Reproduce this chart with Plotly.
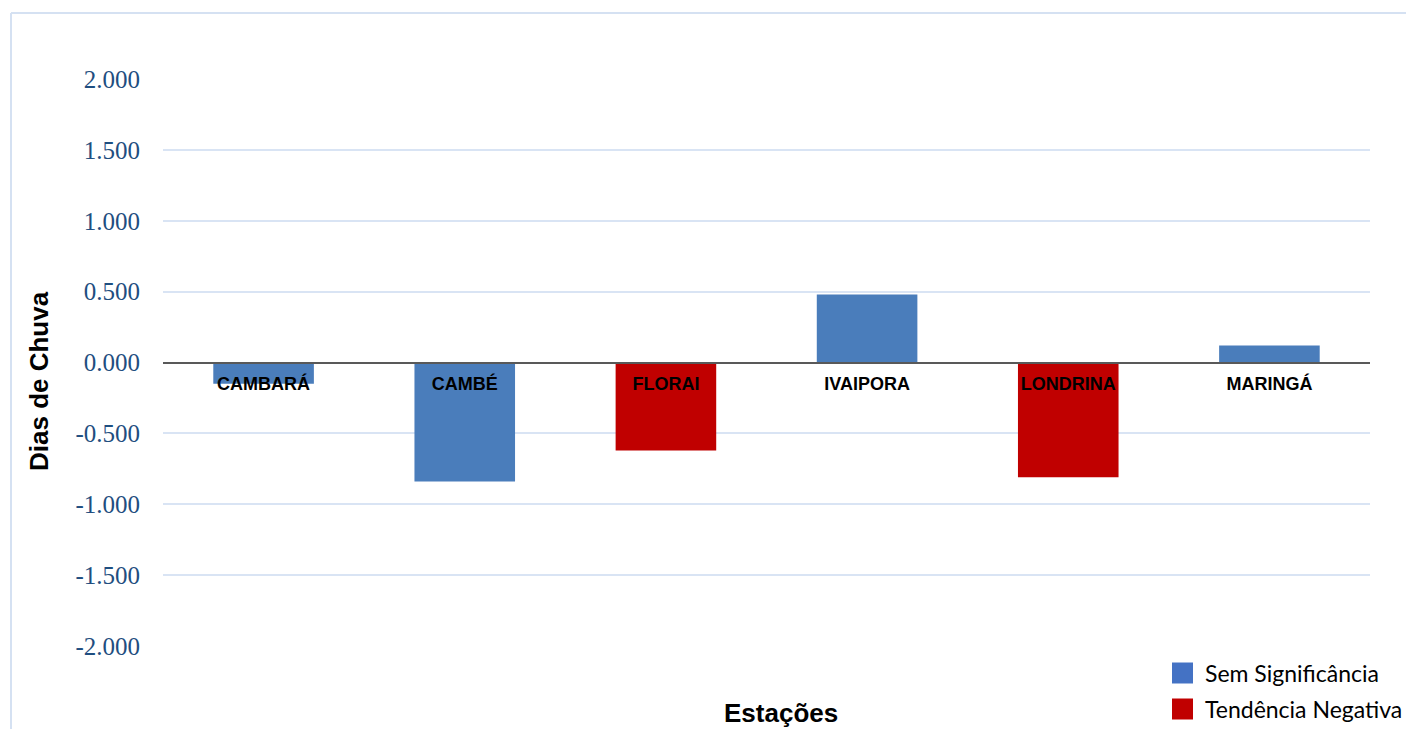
import plotly.graph_objects as go

# Estações pluviométricas e tendência dos dias de chuva
estacoes = ["CAMBARÁ", "CAMBÉ", "FLORAI", "IVAIPORA", "LONDRINA", "MARINGÁ"]
valores = [-0.15, -0.84, -0.62, 0.48, -0.81, 0.12]
classes = ["Sem Significância", "Sem Significância", "Tendência Negativa",
           "Sem Significância", "Tendência Negativa", "Sem Significância"]

categorias_legenda = ["Sem Significância", "Tendência Negativa"]
cores_barras = {"Sem Significância": "#4A7DBB", "Tendência Negativa": "#C00000"}
cores_legenda = {"Sem Significância": "#4472C4", "Tendência Negativa": "#C00000"}

y_ticks = [-2.0, -1.5, -1.0, -0.5, 0.0, 0.5, 1.0, 1.5, 2.0]
y_labels = [f"{v:.3f}" for v in y_ticks]

W, H = 1406, 729
ML, MR, MT, MB = 163, 36, 79, 83
PW, PH = W - ML - MR, H - MT - MB


def px_x(x):
    return (x - ML) / PW


def px_y(y):
    return (H - MB - y) / PH


fig = go.Figure()
for classe in categorias_legenda:
    fig.add_trace(go.Bar(
        x=estacoes,
        y=[v if c == classe else None for v, c in zip(valores, classes)],
        name=classe,
        marker=dict(color=cores_barras[classe], line=dict(width=0)),
        showlegend=False,
    ))

fig.update_layout(
    width=W, height=H,
    margin=dict(l=ML, r=MR, t=MT, b=MB),
    paper_bgcolor="white", plot_bgcolor="white",
    barmode="relative", bargap=0.5,
    showlegend=False,
)

fig.update_yaxes(
    range=[-2, 2], tickvals=y_ticks, ticktext=y_labels,
    showgrid=True, gridcolor="#D9E4F4", gridwidth=2,
    zeroline=False, showline=False, ticks="",
    ticklabelstandoff=22,
    tickfont=dict(family="Liberation Serif", size=25, color="#1F4E80"),
)

fig.update_xaxes(
    type="category", anchor="free", position=0.5,
    showline=True, linecolor="#595959", linewidth=2, layer="above traces",
    showgrid=False, ticks="", ticklabelstandoff=5,
    tickfont=dict(family="Liberation Sans", size=18, color="black", weight="bold"),
)

# Títulos dos eixos
fig.add_annotation(
    text="Dias de Chuva", textangle=-90, xref="paper", yref="paper",
    x=px_x(39), y=px_y(381), xanchor="center", yanchor="middle", showarrow=False,
    font=dict(family="Liberation Sans", size=26, color="black", weight="bold"),
)
fig.add_annotation(
    text="Estações", xref="paper", yref="paper",
    x=px_x(781), y=px_y(713), xanchor="center", yanchor="middle", showarrow=False,
    font=dict(family="Liberation Sans", size=26, color="black", weight="bold"),
)

# Legenda
leg_y = [673, 709]
for classe, yc in zip(categorias_legenda, leg_y):
    fig.add_shape(
        type="rect", xref="paper", yref="paper",
        x0=px_x(1172), x1=px_x(1193), y0=px_y(yc - 10.5), y1=px_y(yc + 10.5),
        fillcolor=cores_legenda[classe], line=dict(width=0),
    )
    fig.add_annotation(
        text=classe, xref="paper", yref="paper", xanchor="left", yanchor="middle",
        x=px_x(1203), y=px_y(yc), showarrow=False,
        font=dict(family="Lato", size=23, color="black"),
    )

# Moldura do gráfico
fig.add_shape(type="line", xref="paper", yref="paper",
              x0=px_x(11), x1=px_x(11), y0=px_y(13), y1=px_y(760),
              line=dict(color="#D5E1F2", width=2))
fig.add_shape(type="line", xref="paper", yref="paper",
              x0=px_x(11), x1=px_x(1420), y0=px_y(13), y1=px_y(13),
              line=dict(color="#D5E1F2", width=2))

fig.write_html("out.html")
